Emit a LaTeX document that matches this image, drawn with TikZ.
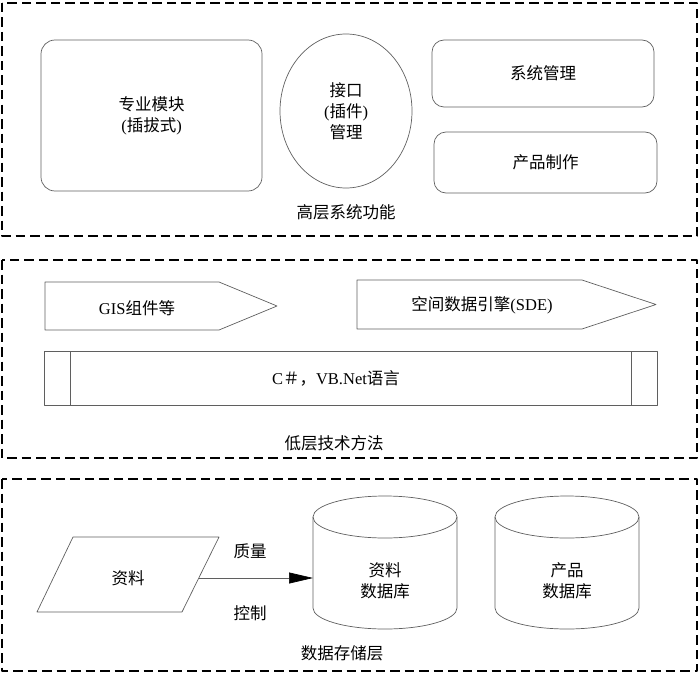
\documentclass[tikz,border=0pt]{standalone}
\usepackage{fontspec}
\setmainfont{Liberation Serif}
\newfontfamily\cjk{Noto Sans CJK SC}
\usetikzlibrary{arrows.meta,shapes.geometric}

\definecolor{edgegray}{RGB}{95,95,95}

\begin{document}
\begin{tikzpicture}[x=1pt,y=-1pt,line join=round,
        font=\fontsize{16.5}{21}\selectfont,
        layer/.style={line width=2.4pt,dash pattern=on 9.5pt off 5pt},
        outline/.style={draw=edgegray,line width=0.7pt},
        block/.style={outline,rounded corners=14pt,inner sep=0pt}]
        \useasboundingbox (0,0) rectangle (700,674);

        % Tres capas
        \draw[layer] (2,3) rectangle (697,236);
        \draw[layer] (2,260) rectangle (697,458);
        \draw[layer] (2,479) rectangle (697,671);

        % 高层系统功能
        \node[block,minimum width=221pt,minimum height=151pt,align=center] (module) at (151.5,115.5)
            {{\cjk 专业模块}\\({\cjk 插拔式})};
        \node[outline,ellipse,minimum width=132pt,minimum height=154pt,inner sep=0pt,align=center] (plugin) at (346,111)
            {{\cjk 接口}\\({\cjk 插件})\\{\cjk 管理}};
        \node[block,rounded corners=12pt,minimum width=222pt,minimum height=67pt] (sysadmin) at (543,73.5) {\cjk 系统管理};
        \node[block,rounded corners=12pt,minimum width=223pt,minimum height=61pt] (product) at (545.5,162.5) {\cjk 产品制作};
        \node (toplabel) at (346,212) {\cjk 高层系统功能};

        % 低层技术方法
        \draw[outline] (45,282) -- (219,282) -- (277,306) -- (219,330) -- (45,330) -- cycle;
        \node (gis) at (137,308) {GIS{\cjk 组件等}};
        \draw[outline] (357,280) -- (582,280) -- (656,304.5) -- (582,329) -- (357,329) -- cycle;
        \node (sde) at (482,305) {{\cjk 空间数据引擎}(SDE)};
        \draw[outline] (44,351) rectangle (657,405);
        \draw[outline] (70,351) -- (70,405) (631,351) -- (631,405);
        \node (lang) at (336,378) {C{\cjk ＃，}VB.Net{\cjk 语言}};
        \node (lowlabel) at (334,443) {\cjk 低层技术方法};

        % 数据存储层
        \draw[outline] (73,537) -- (219,537) -- (182,612) -- (37,612) -- cycle;
        \node (raw) at (128,578) {\cjk 资料};
        \foreach \cx in {385,567} {
            \draw[outline] (\cx-72,517) -- (\cx-72,608)
                arc[start angle=180,end angle=0,x radius=72,y radius=21] -- (\cx+72,517);
            \draw[outline] (\cx,517) ellipse[x radius=72,y radius=21];
        }
        \node[align=center] (rawdb) at (385,581) {{\cjk 资料}\\{\cjk 数据库}};
        \node[align=center] (proddb) at (567,581) {{\cjk 产品}\\{\cjk 数据库}};
        \coordinate (rawout) at (199,578);
        \coordinate (rawin) at (313,578);
        \draw[edgegray,line width=0.7pt,-{Triangle[length=24pt,width=11pt,color=black]}] (rawout) -- (rawin);
        \node (quality) at (250,551) {\cjk 质量};
        \node (control) at (250,613) {\cjk 控制};
        \node (storelabel) at (342,653) {\cjk 数据存储层};

    \end{tikzpicture}
\end{document}
